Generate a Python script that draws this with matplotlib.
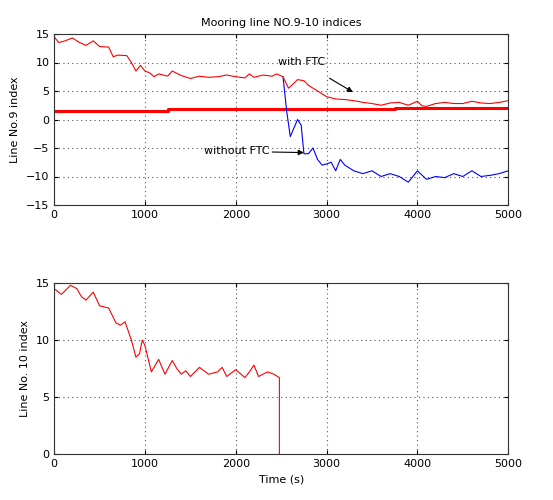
import numpy as np
import matplotlib.pyplot as plt

# line No.9, with FTC (red)
t9_ftc = [0, 50, 120, 200, 280, 350, 430, 500, 600, 650, 700, 800, 850, 900, 950, 1000,
          1050, 1100, 1150, 1250, 1300, 1400, 1500, 1600, 1700, 1800, 1900, 2000, 2100,
          2150, 2200, 2300, 2400, 2450, 2520, 2580, 2630, 2680, 2750, 2800, 2900, 3000,
          3100, 3200, 3300, 3400, 3500, 3600, 3700, 3800, 3900, 4000, 4050, 4100, 4200,
          4300, 4400, 4500, 4600, 4700, 4800, 4900, 5000]
v9_ftc = [14.5, 13.5, 13.8, 14.3, 13.5, 13.0, 13.8, 12.8, 12.7, 11.0, 11.3, 11.2, 10.0, 8.5,
          9.5, 8.5, 8.2, 7.5, 8.0, 7.6, 8.5, 7.7, 7.2, 7.6, 7.4, 7.5, 7.8, 7.5, 7.3,
          8.0, 7.4, 7.8, 7.6, 8.0, 7.5, 5.5, 6.2, 7.0, 6.8, 6.0, 5.0, 4.0,
          3.6, 3.5, 3.3, 3.0, 2.8, 2.5, 2.9, 3.0, 2.5, 3.2, 2.4, 2.3, 2.8,
          3.0, 2.8, 2.8, 3.2, 2.9, 2.8, 3.0, 3.3]

# line No.9, without FTC (blue)
t9_no = [2520, 2560, 2600, 2640, 2680, 2720, 2750, 2800, 2850, 2900, 2950, 3000, 3050,
         3100, 3150, 3200, 3300, 3400, 3500, 3600, 3700, 3800, 3900, 4000, 4100, 4200,
         4300, 4400, 4500, 4600, 4700, 4800, 4900, 5000]
v9_no = [7.5, 1.5, -3.0, -1.5, 0.0, -1.0, -6.0, -6.0, -5.0, -7.0, -8.0, -7.8, -7.5,
         -9.0, -7.0, -8.0, -9.0, -9.5, -9.0, -10.0, -9.5, -10.0, -11.0, -9.0, -10.5, -10.0,
         -10.2, -9.5, -10.0, -9.0, -10.0, -9.8, -9.5, -9.0]

# threshold (thick red)
t_thr = [0, 1250, 1250, 3750, 3750, 5000]
v_thr = [1.5, 1.5, 1.8, 1.8, 2.0, 2.0]

# line No.10
t10 = [0, 80, 180, 250, 300, 350, 430, 500, 600, 680, 730, 780, 850, 900, 940, 970, 1000,
       1070, 1150, 1220, 1300, 1350, 1400, 1450, 1500, 1550, 1600, 1700, 1800, 1850,
       1900, 2000, 2100, 2150, 2200, 2250, 2300, 2350, 2420, 2480, 2480]
v10 = [14.5, 14.0, 14.8, 14.5, 13.8, 13.5, 14.2, 13.0, 12.8, 11.5, 11.3, 11.6, 10.0, 8.5, 8.8,
       10.0, 9.5, 7.2, 8.3, 7.0, 8.2, 7.5, 7.0, 7.3, 6.8, 7.2, 7.6, 7.0, 7.2, 7.6,
       6.8, 7.4, 6.7, 7.2, 7.8, 6.8, 7.0, 7.2, 7.0, 6.7, 0.0]

fs = 8
fig = plt.figure(figsize=(5.53, 5.0), dpi=100)
ax1 = fig.add_axes([0.098, 0.59, 0.821, 0.342])
ax2 = fig.add_axes([0.098, 0.092, 0.821, 0.342])

ax1.plot(t_thr, v_thr, color='red', lw=2.2)
ax1.plot(t9_no, v9_no, color='blue', lw=0.8)
ax1.plot(t9_ftc, v9_ftc, color='red', lw=0.8)
ax1.set_xlim(0, 5000)
ax1.set_ylim(-15, 15)
ax1.set_yticks([-15, -10, -5, 0, 5, 10, 15])
ax1.set_ylabel('Line No.9 index', fontsize=fs)
ax1.set_title('Mooring line NO.9-10 indices', fontsize=fs)
ax1.annotate('with FTC', xy=(3290, 4.8), xytext=(2730, 10.1), fontsize=fs,
             ha='center', va='center',
             arrowprops=dict(arrowstyle='-|>', color='black', lw=0.8,
                             shrinkA=12, shrinkB=0))
ax1.annotate('without FTC', xy=(2750, -5.8), xytext=(2010, -5.6), fontsize=fs,
             ha='center', va='center',
             arrowprops=dict(arrowstyle='-|>', color='black', lw=0.8,
                             shrinkA=0, shrinkB=0))

ax2.plot(t10, v10, color='red', lw=0.8)
ax2.set_xlim(0, 5000)
ax2.set_ylim(0, 15)
ax2.set_yticks([0, 5, 10, 15])
ax2.set_ylabel('Line No. 10 index', fontsize=fs)
ax2.set_xlabel('Time (s)', fontsize=fs)

for ax in (ax1, ax2):
    ax.set_xticks([0, 1000, 2000, 3000, 4000, 5000])
    ax.grid(True, color='#555555', linestyle=(0, (1, 3)), lw=0.8)
    ax.tick_params(direction='in', top=True, right=True, labelsize=fs, length=3)
    for s in ax.spines.values():
        s.set_linewidth(0.8)
        s.set_color('#333333')

fig.savefig('out.png', dpi=100)
